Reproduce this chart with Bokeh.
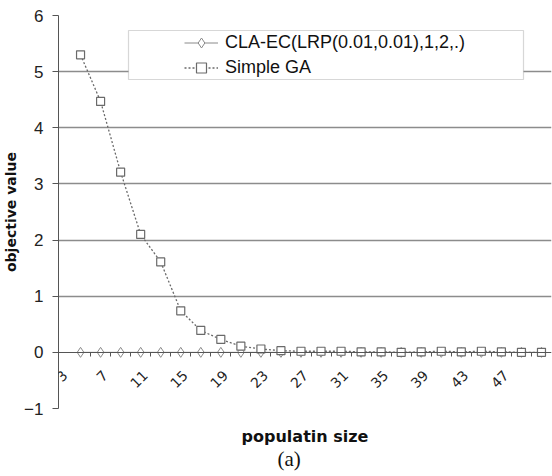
import math
from bokeh.plotting import figure
from bokeh.models import (Range1d, FixedTicker, LinearAxis, Legend, LegendItem,
                          BoxAnnotation, Title, LabelSet, ColumnDataSource)
from bokeh.core.properties import value
from bokeh.embed import file_html
from bokeh.resources import INLINE

# ---- data ----
categories = [3, 5, 7, 9, 11, 13, 15, 17, 19, 21, 23, 25,
              27, 29, 31, 33, 35, 37, 39, 41, 43, 45, 47, 49]
cla_ec = [0.0, 0.0, 0.0, 0.0, 0.0, 0.0, 0.0, 0.0, 0.0, 0.0, 0.0, 0.0,
          0.0, 0.0, 0.0, 0.0, 0.0, 0.0, 0.0, 0.0, 0.0, 0.0, 0.0, 0.0]
simple_ga = [5.30, 4.47, 3.21, 2.10, 1.61, 0.74, 0.39, 0.23, 0.11, 0.06, 0.03, 0.02,
             0.02, 0.02, 0.01, 0.01, 0.00, 0.01, 0.02, 0.01, 0.02, 0.01, 0.00, 0.00]
x_tick_labels = ["3", "7", "11", "15", "19", "23", "27", "31", "35", "39", "43", "47"]
y_ticks = [-1, 0, 1, 2, 3, 4, 5, 6]
series_names = ["CLA-EC(LRP(0.01,0.01),1,2,.)", "Simple GA"]

xs = list(range(len(categories)))
x_lo, x_hi = -0.5, len(categories) - 0.5   # category borders

p = figure(width=552, height=476, output_backend="svg", toolbar_location=None,
           x_range=Range1d(x_lo - 0.6, x_hi),
           y_range=Range1d(min(y_ticks), max(y_ticks)),
           min_border_left=50, min_border_right=1, min_border_top=15,
           min_border_bottom=68)
p.outline_line_color = None
p.background_fill_color = "white"

# grid
p.xgrid.visible = False
p.ygrid.ticker = FixedTicker(ticks=[t for t in y_ticks if t != 0])
p.ygrid.grid_line_color = "#8c8c8c"
p.ygrid.grid_line_width = 1.3

# y axis
yax = p.yaxis[0]
yax.ticker = FixedTicker(ticks=y_ticks)
yax.axis_line_color = "#555555"
yax.major_tick_line_color = "#555555"
yax.major_tick_out = 6
yax.major_tick_in = 0
yax.minor_tick_line_color = None
yax.major_label_standoff = 9
yax.major_label_text_font = "Liberation Sans"
yax.major_label_text_font_size = "17px"
yax.major_label_text_color = "#222222"
yax.axis_label = "objective value"
yax.axis_label_text_font = "DejaVu Sans"
yax.axis_label_text_font_style = "bold"
yax.axis_label_text_font_size = "14px"
yax.axis_label_text_color = "#111111"
yax.axis_label_standoff = 2

# x axis drawn at y = 0, with tick marks between categories
xax = p.xaxis[0]
xax.ticker = FixedTicker(ticks=[], minor_ticks=[i + 0.5 for i in xs[:-1]])
xax.fixed_location = 0
xax.axis_line_color = "#555555"
xax.major_tick_line_color = None
xax.minor_tick_line_color = "#555555"
xax.minor_tick_out = 4
xax.minor_tick_in = 0
xax.major_label_text_font_size = "0px"

# slanted category labels (every other category), anchored at the category
label_idx = [categories.index(int(t)) for t in x_tick_labels]
lab_src = ColumnDataSource(dict(x=label_idx, y=[0] * len(label_idx), text=x_tick_labels))
p.add_layout(LabelSet(x="x", y="y", text="text", source=lab_src,
                      angle=math.pi / 4, text_align="right", text_baseline="top",
                      x_offset=-19, y_offset=-17,
                      text_font=value("DejaVu Sans"), text_font_size=value("14px"),
                      text_color=value("#222222")))

# axis title below
ax2 = LinearAxis(ticker=FixedTicker(ticks=[]), axis_line_color=None,
                 major_tick_line_color=None, minor_tick_line_color=None,
                 axis_label="populatin size", axis_label_text_font="DejaVu Sans",
                 axis_label_text_font_style="bold", axis_label_text_font_size="16px",
                 axis_label_text_color="#111111", axis_label_standoff=18,
                 axis_label_text_line_height=1.0)
p.add_layout(ax2, "below")
p.add_layout(Title(text="(a)", align="left", offset=219, text_font="Liberation Serif",
                   text_font_size="21px", text_font_style="normal",
                   text_color="#111111", standoff=-8, text_line_height=1.0), "below")

# series
l1 = p.line(xs, cla_ec, line_color="#8a8a8a", line_width=1)
s1 = p.scatter(xs, cla_ec, marker="diamond", size=10, line_color="#8a8a8a",
               fill_color="white", line_width=1)
l2 = p.line(xs, simple_ga, line_color="#6a6a6a", line_width=1.3, line_dash="2 2")
s2 = p.scatter(xs, simple_ga, marker="square", size=8, line_color="#6a6a6a",
               fill_color="white", line_width=1.2)

box = BoxAnnotation(left=128, right=523, top=30, bottom=79,
                    left_units="canvas", right_units="canvas",
                    top_units="canvas", bottom_units="canvas",
                    fill_color="white", fill_alpha=1.0,
                    line_color="#7a7a7a", line_width=1.2)
p.add_layout(box)

legend = Legend(items=[LegendItem(label=series_names[0], renderers=[l1, s1]),
                       LegendItem(label=series_names[1], renderers=[l2, s2])],
                location=(126, 328), margin=0, padding=0, spacing=0,
                glyph_width=34, glyph_height=25, label_height=25,
                label_standoff=7, border_line_color=None,
                background_fill_alpha=0.0,
                label_text_font="Liberation Sans", label_text_font_size="18px",
                label_text_color="#111111")
p.add_layout(legend)

open("out.html", "w").write(file_html(p, INLINE))
